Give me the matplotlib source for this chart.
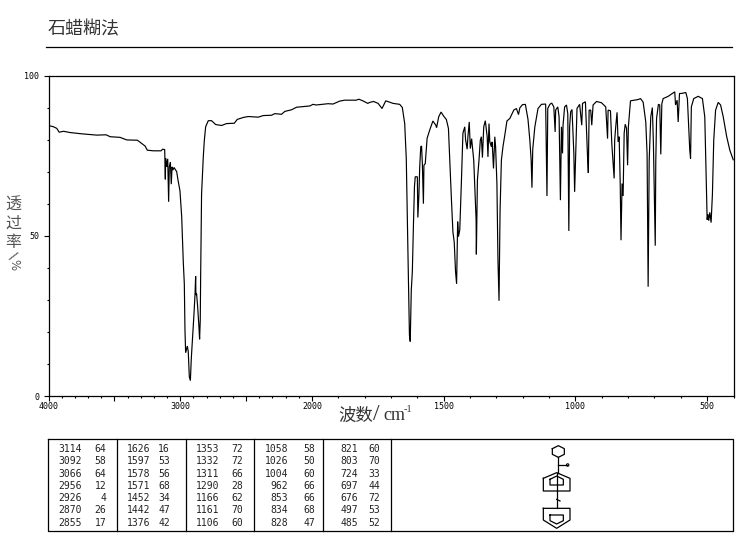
import numpy as np
import matplotlib
matplotlib.use('Agg')
import matplotlib.pyplot as plt
from matplotlib.patches import Circle

CJK = ['Noto Sans CJK SC', 'DejaVu Sans']

title_text = '石蜡糊法'
xlabel_parts = ['波数', '/', 'cm', '-1']
ylabel_chars = ['透', '过', '率']
x_labeled = [4000, 3000, 2000, 1500, 1000, 500]
x_long = [3500, 2500]
y_labeled = [0, 50, 100]

wavenumber = [4000,3962,3937,3919,3886,3836,3747,3634,3563,3532,3457,3406,3325,3292,3267,3250,3204,3146,3133,3118,3113,3111,3103,3095,3088,3083,3075,3068,3062,3055,3047,3027,3017,3002,2989,2977,2969,2964,2959,2946,2939,2931,2923,2916,2906,2896,2888,2883,2881,2876,2868,2858,2853,2848,2845,2838,2825,2817,2807,2787,2762,2731,2686,2648,2590,2567,2522,2484,2408,2370,2307,2282,2231,2206,2155,2117,2016,1996,1984,1939,1920,1895,1876,1832,1822,1807,1788,
1781,1766,1749,1734,1720,1692,1667,1657,1648,1642,1639,1634,1630,1627,1623,1619,1615,1611,1608,1600,1598,1594,1591,1587,1584,1581,1577,1575,1570,1563,1553,1541,1530,1527,1519,1510,1500,1490,1482,1477,1471,1465,1460,1455,1451,1447,1444,1439,1433,1427,1420,1417,1411,1408,1403,1399,1394,1386,1381,1377,1376,1372,1366,1361,1357,1353,1348,1342,1335,1332,1328,1325,1319,1316,1311,1306,1303,1298,1294,1290,1286,1281,1275,1268,1260,1249,1234,1224,1216,1211,1201,1190,1180,1173,1168,1165,1162,1154,1142,1129,1113,1108,1105,1097,1090,1082,1077,1075,1067,1062,1057,1053,1049,1047,1041,1034,1029,1025,1022,1018,1013,1006,1003,999,994,984,976,973,962,954,951,948,942,938,933,920,901,885,878,876,867,862,857,853,851,847,842,838,834,830,827,823,819,815,811,806,802,799,791,762,753,743,733,728,724,720,714,708,704,697,695,692,685,680,676,672,667,648,623,620,614,610,605,597,581,575,566,563,560,551,534,518,509,504,500,497,494,490,485,480,475,468,458,449,439,426,414,401]
transmittance = [84.4,84,83.5,82.3,82.6,82.2,81.8,81.4,81.5,80.9,80.7,79.9,79.8,78.8,78,76.7,76.5,76.5,77,76.9,67.6,74.2,71.5,74,60.6,71.5,73,66.1,71.5,70.5,71.3,70,67.4,64,56,42,35,20.6,13.5,15.6,13.8,6,4.8,11.7,18.5,25.3,31.5,37.4,31.5,32,28,21.6,17.7,23.7,37.2,63,74.6,79.8,84,85.9,85.9,84.7,84.4,85,85.1,86.3,86.9,87.2,87,87.5,87.6,88.1,87.9,88.8,89.3,90.1,90.5,91,90.8,91.2,91.1,92,92.3,92.3,92.6,92.1,91.3,
91.6,91.9,91.3,89.7,92.1,91.3,91,90,85,74,59.6,37,19,17,33,38.8,52.8,65.3,68.4,68.4,55.7,63,71.5,77.8,78,72.5,60,72,72.5,80.4,83,85.8,84.5,83.7,87.1,88.6,87.3,86.3,83.5,73.6,62,51.2,48,38.8,35,54.4,49.7,51.8,66.3,82,84,80,77,81,85.5,77.2,80.3,73.6,63,55,44.2,67.4,73.6,79.8,80.9,74.4,84,85.9,80.9,74.6,85,79.3,77.8,79.3,71,80.9,77.8,66.3,42.4,29.7,58,73.6,77.8,81.4,85.8,86.6,89.2,89.7,87.8,89.9,90.9,91,86.3,79.8,73.6,65,77,84,89.7,91,91.1,62.4,89.7,91,91.4,90.2,82.4,89.2,90.2,87.1,61.1,84,75.7,84.5,90.2,90.8,88.1,51.5,84,88.7,89.4,75.7,63.7,75.7,89.7,91,84.5,91.3,91.8,74.6,69.6,89.2,89.2,84.5,90.8,91.9,91.5,90.2,80.3,89.2,89,78.8,72.5,67.9,79.8,84,88.5,79.3,80.9,66.3,48.6,66.3,62.4,82,84.8,83.5,72,84,92.1,92.5,92.8,91.7,85.5,75.6,34.1,73.6,87.1,90,78.8,46.9,73,86.6,91,90.8,75.4,91.2,92.8,93.5,94.9,90.8,92.3,85.5,94.4,94.4,94.7,92.8,76.7,74.1,90.2,92.8,93.5,92.8,87.1,68.4,55,56.7,54.7,57.3,54.1,63,79.8,89.2,91.6,90.8,87.1,81,76.7,73.7]

table_wavenumbers = [
    [3114, 3092, 3066, 2956, 2926, 2870, 2855],
    [1626, 1597, 1578, 1571, 1452, 1442, 1376],
    [1353, 1332, 1311, 1290, 1166, 1161, 1106],
    [1058, 1026, 1004, 962, 853, 834, 828],
    [821, 803, 724, 697, 676, 497, 485],
]
table_values = [
    [64, 58, 64, 12, 4, 26, 17],
    [16, 53, 56, 68, 34, 47, 42],
    [72, 72, 66, 28, 62, 70, 60],
    [58, 50, 60, 66, 66, 68, 47],
    [60, 70, 33, 44, 72, 53, 52],
]

W, H = 737, 539
fig = plt.figure(figsize=(W/100, H/100), dpi=100, facecolor='white')

pg = fig.add_axes([0, 0, 1, 1])
pg.set_xlim(0, W); pg.set_ylim(H, 0); pg.axis('off')

L, R, T, B = 48.5, 733.5, 75.5, 396
ax = fig.add_axes([L/W, 1-B/H, (R-L)/W, (B-T)/H])

def fwd(x):
    x = np.asarray(x, float)
    return np.where(x <= 2000, x, 2000+(x-2000)/2)
def inv(u):
    u = np.asarray(u, float)
    return np.where(u <= 2000, u, 2000+(u-2000)*2)
ax.set_xscale('function', functions=(fwd, inv))
ax.set_xlim(4000, 400)
ax.set_ylim(0, 100)
ax.plot(wavenumber, transmittance, color='black', lw=0.85, solid_joinstyle='miter')

x_major = x_labeled + x_long
ax.set_xticks(x_major)
ax.set_xticklabels([str(v) if v in x_labeled else '' for v in x_major],
                   family='DejaVu Sans Mono', fontsize=6)
ax.set_xticks([v for v in range(400, 4000, 100) if v not in x_major], minor=True)
ax.set_yticks(y_labeled)
ax.set_yticklabels([str(v) for v in y_labeled], family='DejaVu Sans Mono', fontsize=6)
ax.set_yticks([v for v in range(0, 101, 10) if v not in y_labeled], minor=True)
ax.tick_params(axis='y', which='major', length=3.6, width=0.8, pad=3)
ax.tick_params(axis='y', which='minor', length=1.8, width=0.8)
ax.tick_params(axis='x', which='major', length=3.6, width=0.8, pad=1)
ax.tick_params(axis='x', which='minor', length=1.5, width=0.8)
for s in ax.spines.values():
    s.set_linewidth(0.9)

# title and rule
pg.text(48, 29, title_text, family=CJK, fontsize=13, color='#333333', va='center', ha='left')
pg.plot([46, 732], [47, 47], color='black', lw=0.9)

# axis titles
grey = '#555555'
for i, ch in enumerate(ylabel_chars):
    pg.text(13.5, 205+i*18.5, ch, family=CJK, fontsize=11.5, color=grey, ha='center', va='center')
pg.text(13.5, 256, '/', family='DejaVu Sans', fontsize=10, color=grey, ha='center', va='center', rotation=-35)
pg.text(13.5, 265, '%', family='DejaVu Sans', fontsize=8.5, color=grey, ha='center', va='center', rotation=-90)
pg.text(338, 416, xlabel_parts[0], family=CJK, fontsize=12.5, color='#333333', ha='left', va='center')
pg.text(373.5, 415, xlabel_parts[1], family='Liberation Serif', fontsize=17, color='#333333', ha='left', va='center')
pg.text(383, 416, xlabel_parts[2], family='Liberation Serif', fontsize=13, color='#333333', ha='left', va='center')
pg.text(404, 409, xlabel_parts[3], family='Liberation Serif', fontsize=7.5, color='#333333', ha='left', va='center')

# table
tL, tR, tT, tB = 48, 733, 439, 531
pg.plot([tL, tR, tR, tL, tL], [tT, tT, tB, tB, tT], color='black', lw=0.9)
dividers = [117, 186, 254.5, 323, 391]
for d in dividers:
    pg.plot([d, d], [tT, tB], color='black', lw=0.9)
wn_right = [82, 150.5, 219.5, 288, 358]
val_right = [106.5, 170, 243, 315, 380]
for c in range(5):
    for r in range(7):
        y = 449.3+r*12.2
        pg.text(wn_right[c], y, str(table_wavenumbers[c][r]), family='DejaVu Sans Mono', fontsize=7,
                color='#222222', ha='right', va='center')
        pg.text(val_right[c], y, str(table_values[c][r]), family='DejaVu Sans Mono', fontsize=7,
                color='#222222', ha='right', va='center')

# molecule
def P(pts):
    return [500+p[0]/3 for p in pts], [430+p[1]/3 for p in pts]
shapes = [
    [(157,56),(175,47),(193,56),(193,73),(175,82),(157,73),(157,56)],
    [(175,82),(175,128)],
    [(175,105),(200,105)],
    [(130,145),(170,128),(210,145),(210,183),(130,183),(130,145)],
    [(150,148),(170,138),(190,148),(190,165),(150,165),(150,148)],
    [(170,128),(170,235)],
    [(130,235),(210,235),(210,270),(170,295),(130,270),(130,235)],
    [(150,255),(190,255),(190,272),(170,282),(150,272),(150,255)],
    [(170,208),(180,213)],
]
for s in shapes:
    pg.plot(*P(s), color='black', lw=0.9)
pg.add_patch(Circle((500+203/3, 430+105/3), 1.2, fill=False, ec='black', lw=0.8))

fig.savefig('out.png', dpi=100)
